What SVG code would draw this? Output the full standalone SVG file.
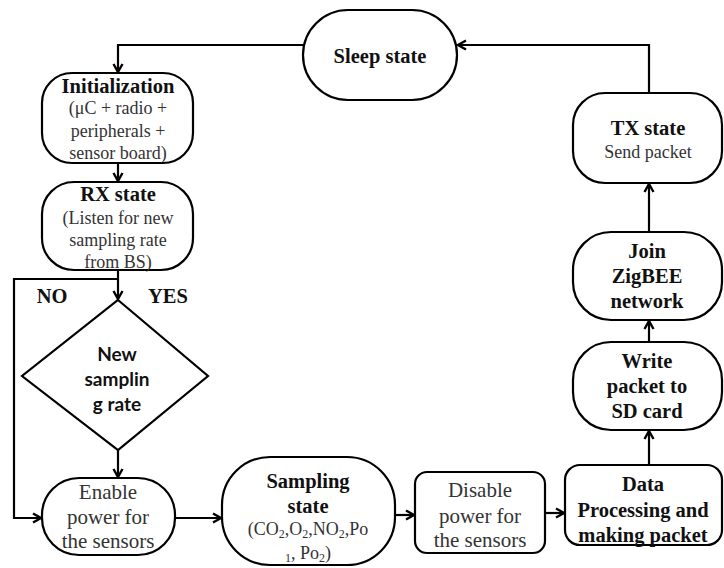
<svg xmlns="http://www.w3.org/2000/svg" width="724" height="568" viewBox="0 0 724 568">
<defs>
<style>
.box{fill:#fff;stroke:#000;stroke-width:2.2}
.ln{fill:none;stroke:#000;stroke-width:2.2;marker-end:url(#ah)}
.b{font-family:"Liberation Serif","Times New Roman",serif;font-weight:bold;font-size:20.5px;fill:#111;text-anchor:middle}
.r{font-family:"Liberation Serif","Times New Roman",serif;font-size:18px;fill:#333;text-anchor:middle}
.r2{font-family:"Liberation Serif","Times New Roman",serif;font-size:21px;fill:#333;text-anchor:middle}
.s{font-family:Lato,"Liberation Sans",Arial,sans-serif;font-weight:bold;font-size:19px;fill:#111;text-anchor:middle}
.sub{font-size:12px}
</style>
<marker id="ah" viewBox="0 0 12 12" refX="10" refY="6" markerWidth="12" markerHeight="12" markerUnits="userSpaceOnUse" orient="auto">
<path d="M2,1.5 L10,6 L2,10.5" fill="none" stroke="#000" stroke-width="2.4"/>
</marker>
</defs>
<rect width="724" height="568" fill="#fff"/>
<g id="connectors">
<path class="ln" d="M304,45 H118 V72"/>
<path class="ln" d="M118,163 V181"/>
<path class="ln" d="M118,270 V299"/>
<path class="ln" d="M118,279 H14 V518 H41"/>
<path class="ln" d="M118,450 V477"/>
<path class="ln" d="M175,518 H221"/>
<path class="ln" d="M395,515 H414"/>
<path class="ln" d="M545,513 H564"/>
<path class="ln" d="M649,465 V431"/>
<path class="ln" d="M649,342 V321"/>
<path class="ln" d="M649,232 V184"/>
<path class="ln" d="M649,93 V45 H458"/>
</g>
<g id="sleep">
<rect class="box" x="303" y="10" width="154" height="90" rx="45"/>
<text class="b" x="380" y="63">Sleep state</text>
</g>
<g id="init">
<rect class="box" x="42" y="73" width="151" height="90" rx="30"/>
<text class="b" x="118" y="93">Initialization</text>
<text class="r" x="118" y="114">(μC + radio +</text>
<text class="r" x="118" y="137">peripherals +</text>
<text class="r" x="118" y="159">sensor board)</text>
</g>
<g id="rx">
<rect class="box" x="42" y="182" width="151" height="88" rx="32"/>
<text class="b" x="118" y="201">RX state</text>
<text class="r" x="118" y="224">(Listen for new</text>
<text class="r" x="118" y="246">sampling rate</text>
<text class="r" x="118" y="268">from BS)</text>
</g>
<g id="labels">
<text class="b" x="52" y="303">NO</text>
<text class="b" x="168" y="303">YES</text>
</g>
<g id="decision">
<polygon class="box" points="118,300 208,376 118,450 22,376"/>
<text class="s" x="117" y="361">New</text>
<text class="s" x="117" y="386">samplin</text>
<text class="s" x="117" y="411">g rate</text>
</g>
<g id="enable">
<rect class="box" x="42" y="478" width="133" height="77" rx="37"/>
<text class="r2" x="108" y="499">Enable</text>
<text class="r2" x="108" y="524">power for</text>
<text class="r2" x="108" y="548">the sensors</text>
</g>
<g id="sampling">
<rect class="box" x="222" y="457" width="173" height="108" rx="48"/>
<text class="b" x="308" y="488">Sampling</text>
<text class="b" x="308" y="513">state</text>
<text class="r" x="308" y="535">(CO<tspan class="sub" dy="3">2</tspan><tspan dy="-3">,O</tspan><tspan class="sub" dy="3">2</tspan><tspan dy="-3">,NO</tspan><tspan class="sub" dy="3">2</tspan><tspan dy="-3">,Po</tspan></text>
<text class="r" x="308" y="559"><tspan class="sub" dy="3">1</tspan><tspan dy="-3">, Po</tspan><tspan class="sub" dy="3">2</tspan><tspan dy="-3">)</tspan></text>
</g>
<g id="disable">
<rect class="box" x="415" y="472" width="130" height="81" rx="12"/>
<text class="r2" x="480" y="497">Disable</text>
<text class="r2" x="480" y="523">power for</text>
<text class="r2" x="480" y="547">the sensors</text>
</g>
<g id="data">
<rect class="box" x="565" y="465" width="157" height="80" rx="15"/>
<text class="b" x="643" y="491">Data</text>
<text class="b" x="643" y="517">Processing and</text>
<text class="b" x="643" y="542">making packet</text>
</g>
<g id="write">
<rect class="box" x="573" y="342" width="149" height="88" rx="38"/>
<text class="b" x="647" y="368">Write</text>
<text class="b" x="647" y="393">packet to</text>
<text class="b" x="647" y="418">SD card</text>
</g>
<g id="join">
<rect class="box" x="573" y="232" width="149" height="88" rx="38"/>
<text class="b" x="647" y="258">Join</text>
<text class="b" x="647" y="283">ZigBEE</text>
<text class="b" x="647" y="308">network</text>
</g>
<g id="tx">
<rect class="box" x="573" y="93" width="149" height="90" rx="32"/>
<text class="b" x="648" y="135">TX state</text>
<text class="r" x="648" y="158">Send packet</text>
</g>
</svg>
